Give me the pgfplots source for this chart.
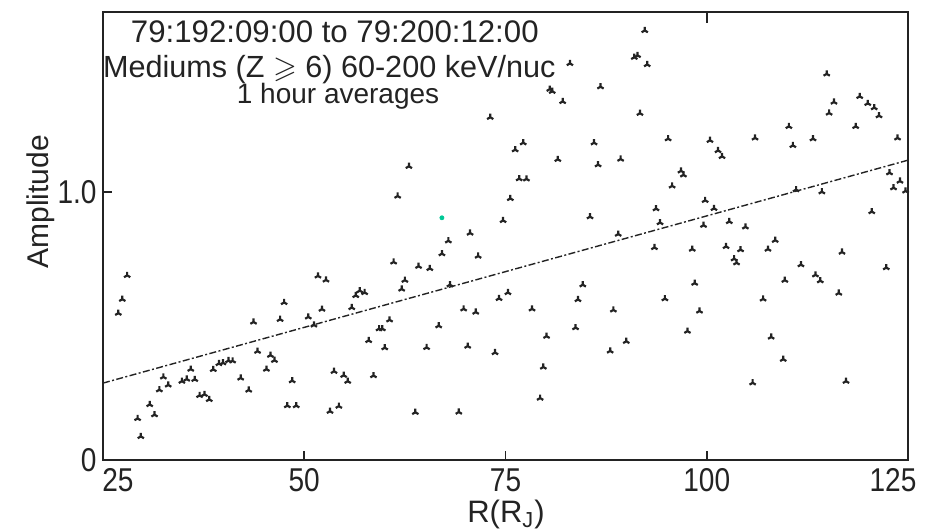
\documentclass[border=0pt]{standalone}
\usepackage{amssymb}
\usepackage{fontspec}
\setmainfont{Liberation Sans}
\newfontfamily\tickfont[FakeStretch=0.85]{Liberation Sans}
\usepackage{pgfplots}
\pgfplotsset{compat=1.18}
\usepackage{pgfplotstable}
\usetikzlibrary{plotmarks}
\definecolor{ink}{RGB}{35,35,35}
\definecolor{greenpt}{RGB}{0,200,150}
\pgfplotstableread{
x y
26.9 0.548
27.4 0.600
28.0 0.689
29.3 0.155
29.7 0.088
30.8 0.207
31.4 0.169
32.0 0.262
32.5 0.310
33.1 0.280
34.8 0.294
35.4 0.302
35.9 0.339
36.4 0.301
37.0 0.241
37.6 0.245
38.2 0.226
38.7 0.338
39.4 0.360
39.9 0.363
40.6 0.371
41.1 0.370
42.1 0.306
43.1 0.261
43.7 0.515
44.2 0.406
45.3 0.339
45.8 0.391
46.3 0.372
47.0 0.525
47.5 0.588
47.9 0.203
49.0 0.203
48.5 0.296
50.5 0.534
51.2 0.504
51.7 0.687
52.7 0.672
52.2 0.563
53.2 0.182
54.3 0.201
53.7 0.331
54.9 0.316
55.4 0.294
55.9 0.569
56.4 0.614
56.9 0.632
57.5 0.625
58.0 0.446
58.6 0.315
59.3 0.490
59.7 0.490
60.0 0.419
60.6 0.523
61.1 0.739
62.1 0.638
62.5 0.671
63.8 0.178
64.2 0.723
65.6 0.715
65.2 0.420
66.7 0.501
67.1 0.770
67.9 0.818
68.1 0.654
69.2 0.179
69.8 0.564
70.6 0.847
71.3 0.552
71.6 0.761
70.3 0.425
73.7 0.401
74.2 0.603
75.3 0.625
63.0 1.096
61.6 0.985
73.1 1.279
74.7 0.894
75.6 0.976
76.2 1.158
77.2 1.184
76.7 1.050
77.6 1.049
78.3 0.564
80.1 0.462
79.7 0.347
79.3 0.231
80.5 1.384
80.8 1.376
82.1 1.338
83.0 1.480
81.5 1.122
83.7 0.494
84.0 0.599
84.6 0.654
85.5 0.908
86.0 1.184
86.5 1.102
86.8 1.393
88.4 0.560
88.0 0.407
89.0 0.843
89.3 1.123
90.0 0.443
91.0 1.503
91.4 1.510
91.7 1.294
92.3 1.603
92.6 1.476
93.5 0.793
93.7 0.938
94.2 0.886
94.8 0.602
95.2 1.199
95.7 1.023
96.8 1.079
97.1 1.064
97.6 0.481
98.2 0.787
98.5 0.660
99.1 0.556
99.6 0.876
99.8 0.969
100.4 1.193
100.9 0.939
101.4 1.155
101.9 1.133
102.4 0.797
102.8 0.890
103.4 0.751
103.7 0.736
104.2 0.785
104.8 0.870
106.0 1.202
105.7 0.288
107.0 0.601
107.6 0.787
108.0 0.459
108.5 0.820
109.5 0.376
109.7 0.671
110.2 1.245
110.7 1.174
111.1 1.009
111.7 0.729
113.2 1.199
113.5 0.691
114.1 0.669
114.3 1.001
114.9 1.441
115.2 1.295
115.8 1.336
116.4 0.623
116.8 0.776
117.3 0.294
118.5 1.245
119.0 1.357
120.0 1.331
120.5 0.927
120.8 1.315
121.4 1.285
122.3 0.718
122.7 1.072
123.2 1.016
123.7 1.202
124.0 1.041
124.7 1.004
}\pts
\begin{document}
\begin{tikzpicture}
\begin{axis}[
  name=ax,
  scale only axis,
  width=402.5pt, height=224pt,
  xmin=25, xmax=125, ymin=0, ymax=1.672,
  axis line style={line width=1.2pt, color=ink},
  xtick={25,50,75,100,125},
  xticklabels={\hspace*{15pt}25,50,75,100,125\hspace*{15pt}},
  ytick={0,1},
  yticklabels={0,1.0},
  tick align=inside,
  xtick pos=bottom, ytick pos=left,
  major tick length=4.5pt,
  tick style={line width=0.9pt, color=ink},
  /pgf/number format/assume math mode=true,
  xticklabel style={font=\tickfont\fontsize{16.5}{16.5}\selectfont, text=ink, inner sep=0pt, anchor=north, yshift=-4pt},
  yticklabel style={font=\tickfont\fontsize{16.5}{16.5}\selectfont, text=ink, inner sep=0pt, anchor=east, xshift=-3pt},
  xlabel={R(R\textsubscript{J})},
  ylabel={Amplitude},
  every axis x label/.style={at={(axis description cs:0.5006,0)}, anchor=base, yshift=-31pt, font=\fontsize{15.5}{15.5}\selectfont, text=ink},
  every axis y label/.style={at={(axis description cs:-0.077,0.576)}, rotate=90, anchor=center, font=\fontsize{15}{15}\selectfont, text=ink},
  clip=false,
]
\addplot[only marks, mark=Mercedes star, mark size=1.8pt, mark options={line width=1.1pt, color=ink}] table[x=x,y=y] {\pts};
\addplot[only marks, mark=*, mark size=1pt, color=greenpt] coordinates {(67.1,0.904)};
\addplot[color=ink, line width=0.7pt, dash pattern=on 3.5pt off 1.2pt on 1pt off 1.2pt] coordinates {(25,0.287) (125,1.119)};
\draw[line width=0.9pt, color=ink] (axis cs:100,1.672) -- (axis cs:100,1.632);
\node[anchor=base, inner sep=0pt, font=\fontsize{15.6}{15.6}\selectfont, text=ink] at (axis description cs:0.288,0.931) {79:192:09:00 to 79:200:12:00};
\node[anchor=base, inner sep=0pt, font=\fontsize{15.3}{15.3}\selectfont, text=ink] at (axis description cs:0.281,0.853) {Mediums (Z $\geqslant$ 6) 60-200 keV/nuc};
\node[anchor=base, inner sep=0pt, font=\fontsize{14}{14}\selectfont, text=ink] at (axis description cs:0.292,0.795) {1 hour averages};
\end{axis}
\pgfresetboundingbox
\path ([xshift=-51.5pt,yshift=-35pt]ax.south west) rectangle ([xshift=11pt,yshift=6pt]ax.north east);
\end{tikzpicture}
\end{document}
